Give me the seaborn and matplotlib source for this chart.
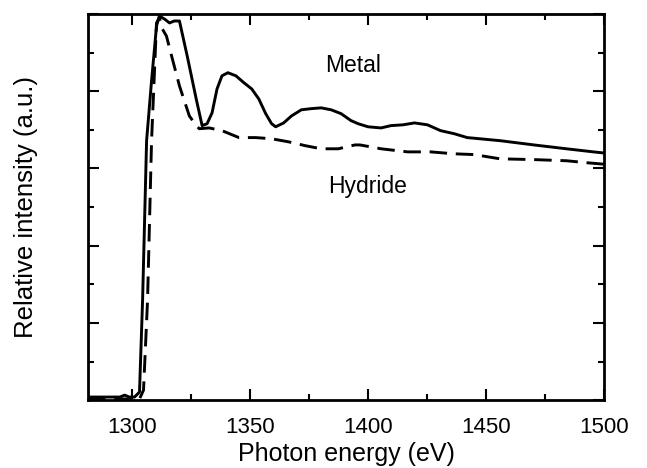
import numpy as np
import pandas as pd
import matplotlib
matplotlib.use("Agg")
import matplotlib.pyplot as plt
import seaborn as sns
from matplotlib.ticker import MultipleLocator

# Metal (solid)
metal_ev = [1281.5, 1295, 1297, 1299, 1301.2, 1303.3, 1304.6, 1306.3, 1308.4, 1310.5,
            1311.7, 1313.9, 1316, 1318, 1320.2, 1323.5, 1327.3, 1329.8, 1331.9, 1334.0,
            1336.1, 1338.2, 1340.7, 1344.1, 1347.5, 1350.8, 1353.8, 1356.7, 1359.2, 1360.9,
            1364.3, 1367.6, 1371.8, 1376.0, 1380.2, 1384.4, 1388.6, 1392.8, 1395.8, 1400.0,
            1405.5, 1409.7, 1414.7, 1419.7, 1425.2, 1430.7, 1436.5, 1442.0, 1455.9, 1470.2,
            1484.0, 1495.4, 1500]
metal_int = [0.008, 0.008, 0.013, 0.008, 0.008, 0.021, 0.258, 0.672, 0.827, 0.969,
             0.995, 0.987, 0.977, 0.982, 0.982, 0.891, 0.780, 0.711, 0.716, 0.744,
             0.806, 0.840, 0.848, 0.840, 0.822, 0.806, 0.780, 0.742, 0.716, 0.708,
             0.718, 0.736, 0.752, 0.755, 0.757, 0.752, 0.742, 0.724, 0.716, 0.708,
             0.705, 0.711, 0.713, 0.718, 0.713, 0.698, 0.690, 0.680, 0.672, 0.661,
             0.651, 0.643, 0.640]

# Hydride (dashed)
hydride_ev = [1281.5, 1303.3, 1305, 1306.7, 1308.4, 1310.5, 1311.7, 1313, 1314.7, 1317.2,
              1320.2, 1324.4, 1327.3, 1328.6, 1332.8, 1338.2, 1345.4, 1352.5, 1359.2, 1366.4,
              1373.5, 1380.2, 1387.4, 1394.5, 1396.6, 1405.5, 1416.8, 1426.5, 1436.5, 1444.9,
              1455.9, 1470.2, 1484.0, 1492.4, 1500]
hydride_int = [0.003, 0.003, 0.026, 0.258, 0.672, 0.977, 0.990, 0.961, 0.943, 0.884,
               0.814, 0.736, 0.711, 0.703, 0.705, 0.698, 0.680, 0.680, 0.677, 0.669,
               0.659, 0.651, 0.651, 0.661, 0.661, 0.651, 0.643, 0.643, 0.638, 0.636,
               0.625, 0.623, 0.620, 0.615, 0.611]

sns.set_style("ticks")
plt.rcParams['font.family'] = ['Liberation Sans', 'DejaVu Sans']
plt.rcParams['text.color'] = 'black'
plt.rcParams['axes.labelcolor'] = 'black'
plt.rcParams['xtick.color'] = 'black'
plt.rcParams['ytick.color'] = 'black'

df = pd.concat([
    pd.DataFrame({"energy": metal_ev, "intensity": metal_int, "sample": "Metal"}),
    pd.DataFrame({"energy": hydride_ev, "intensity": hydride_int, "sample": "Hydride"}),
])

fig = plt.figure(figsize=(6.47, 4.68), dpi=100)
ax = fig.add_axes([0.136, 0.145, 0.798, 0.825])

sns.lineplot(data=df, x="energy", y="intensity", hue="sample", style="sample",
             palette={"Metal": "black", "Hydride": "black"},
             dashes={"Metal": "", "Hydride": (6, 3)},
             linewidth=2.1, legend=False, ax=ax, sort=False, estimator=None)

ax.set_xlim(1281.5, 1500)
ax.set_ylim(0, 1.0)
ax.xaxis.set_major_locator(MultipleLocator(50))
ax.xaxis.set_minor_locator(MultipleLocator(25))
ax.yaxis.set_major_locator(MultipleLocator(0.2))
ax.yaxis.set_minor_locator(MultipleLocator(0.1))
ax.set_yticklabels([])
ax.tick_params(which="both", direction="in", top=True, right=True, width=1.5,
               labelsize=16, pad=12, colors="black")
ax.tick_params(which="major", length=8)
ax.tick_params(which="minor", length=4)
for s in ax.spines.values():
    s.set_linewidth(2)
    s.set_color("black")

ax.set_xlabel("Photon energy (eV)", fontsize=18, labelpad=3, color="black")
ax.set_ylabel("Relative intensity (a.u.)", fontsize=18.5, labelpad=24, color="black")

ax.text(1393.7, 0.866, "Metal", fontsize=16.5, ha="center", va="center", color="black")
ax.text(1400, 0.553, "Hydride", fontsize=16.5, ha="center", va="center", color="black")

fig.savefig("out.png", dpi=100)
